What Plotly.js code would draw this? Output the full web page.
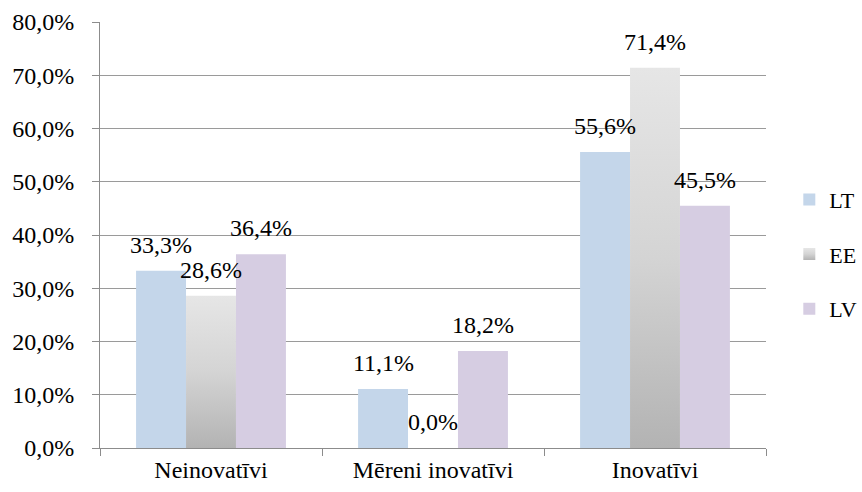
<!DOCTYPE html>
<html>
<head>
<meta charset="utf-8">
<script src="https://cdn.plot.ly/plotly-3.0.1.min.js"></script>
<style>
  html, body { margin: 0; padding: 0; background: #fff; }
  #chart { width: 862px; height: 492px; }
</style>
</head>
<body>
<div id="chart"></div>
<script>
// ---- data ----
const categories = ["Neinovatīvi", "Mēreni inovatīvi", "Inovatīvi"];
const seriesNames = ["LT", "EE", "LV"];
const valuesLT = [33.3, 11.1, 55.6];
const valuesEE = [28.6, 0.0, 71.4];
const valuesLV = [36.4, 18.2, 45.5];
const yTickValues = [0, 10, 20, 30, 40, 50, 60, 70, 80];

// ---- styles ----
const FONT = "Liberation Serif";
const FS = 24;
const colors = ["#c4d6ea", "#d2d2d2", "#d6cde2"];
const allValues = [valuesLT, valuesEE, valuesLV];
const BARGAP = 0.325;
const barW = (1 - BARGAP) / 3;

const fmt = v => v.toFixed(1).replace(".", ",") + "%";

const traces = allValues.map((vals, i) => ({
  type: "bar",
  name: seriesNames[i],
  x: categories,
  y: vals,
  marker: { color: colors[i], line: { width: 0 } },
  legendgroup: "g" + i,
  hoverinfo: "skip"
}));

const annotations = [];
allValues.forEach((vals, i) => {
  vals.forEach((v, j) => {
    annotations.push({
      xref: "x", yref: "y",
      x: j + (i - 1) * barW,
      y: v,
      text: fmt(v),
      showarrow: false,
      xanchor: "center",
      yanchor: "bottom",
      yshift: 11,
      font: { family: FONT, size: FS, color: "#000" }
    });
  });
});

const layout = {
  width: 862, height: 492,
  margin: { l: 100, r: 96, t: 22, b: 44, pad: 0, autoexpand: false },
  paper_bgcolor: "#fff", plot_bgcolor: "#fff",
  barmode: "group",
  bargap: BARGAP,
  bargroupgap: 0,
  font: { family: FONT, size: FS, color: "#000" },
  showlegend: true,
  legend: {
    x: 1.035, xanchor: "left", y: 0.455, yanchor: "middle",
    font: { family: FONT, size: 22, color: "#000" },
    tracegroupgap: 23,
    itemwidth: 30,
    bgcolor: "rgba(0,0,0,0)"
  },
  xaxis: {
    type: "category",
    automargin: false,
    showgrid: false,
    showline: true, linecolor: "#8c8c8c", linewidth: 1,
    ticks: "outside", tickson: "boundaries", ticklen: 7, tickcolor: "#8c8c8c",
    tickfont: { family: FONT, size: FS, color: "#000" },
    zeroline: false,
    fixedrange: true
  },
  yaxis: {
    range: [0, 80],
    automargin: false,
    tickmode: "array",
    tickvals: yTickValues,
    ticktext: yTickValues.map(fmt),
    showgrid: true, gridcolor: "#9a9a9a", gridwidth: 1,
    showline: true, linecolor: "#8c8c8c", linewidth: 1,
    ticks: "outside", ticklen: 7, tickcolor: "#8c8c8c",
    ticklabelstandoff: 13,
    tickfont: { family: FONT, size: FS, color: "#000" },
    zeroline: false,
    fixedrange: true
  },
  annotations: annotations,
  hovermode: false
};

Plotly.newPlot("chart", traces, layout, { displayModeBar: false, staticPlot: true }).then(gd => {
  // vertical gradient for EE series bars (light top -> darker bottom)
  const svg = gd.querySelector("svg.main-svg");
  const ns = "http://www.w3.org/2000/svg";
  let defs = svg.querySelector("defs");
  if (!defs) { defs = document.createElementNS(ns, "defs"); svg.insertBefore(defs, svg.firstChild); }
  const grad = document.createElementNS(ns, "linearGradient");
  grad.setAttribute("id", "eeGrad");
  grad.setAttribute("x1", "0"); grad.setAttribute("y1", "0");
  grad.setAttribute("x2", "0"); grad.setAttribute("y2", "1");
  [["0", "#e6e6e6"], ["0.5", "#d4d4d4"], ["1", "#b3b3b3"]].forEach(([o, c]) => {
    const s = document.createElementNS(ns, "stop");
    s.setAttribute("offset", o); s.setAttribute("stop-color", c);
    grad.appendChild(s);
  });
  defs.appendChild(grad);
  const barTraces = gd.querySelectorAll(".barlayer .trace.bars");
  if (barTraces[1]) barTraces[1].querySelectorAll("path").forEach(p => { p.style.fill = "url(#eeGrad)"; });
  const legTraces = gd.querySelectorAll(".legend .traces");
  if (legTraces[1]) legTraces[1].querySelectorAll(".legendpoints path").forEach(p => { p.style.fill = "url(#eeGrad)"; });
});
</script>
</body>
</html>
